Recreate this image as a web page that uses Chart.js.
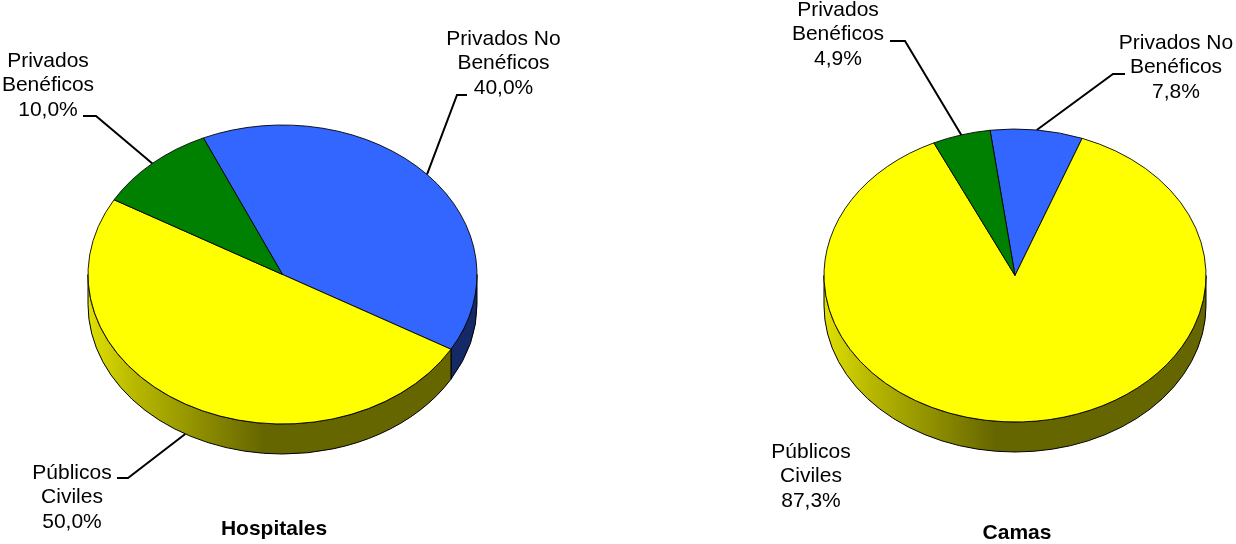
<!DOCTYPE html>
<html>
<head>
<meta charset="utf-8">
<script src="https://cdn.jsdelivr.net/npm/chart.js@4"></script>
<style>
html,body{margin:0;padding:0;background:#fff;overflow:hidden;width:1236px;height:544px}
canvas{position:absolute;top:0}
</style>
</head>
<body>
<canvas id="left" width="618" height="544" style="left:0"></canvas>
<canvas id="right" width="618" height="544" style="left:618px"></canvas>
<script>
const categories = ['Privados No Benéficos', 'Públicos Civiles', 'Privados Benéficos'];
const categoryLines = [['Privados No', 'Benéficos'], ['Públicos', 'Civiles'], ['Privados', 'Benéficos']];
const hospitalesValues = [40.0, 50.0, 10.0];
const camasValues = [7.8, 87.3, 4.9];
const sliceColors = ['#3366ff', '#ffff00', '#008000'];

const FONT = '"Liberation Sans", Arial, sans-serif';

function wallGradient(ctx, hex, left, right) {
  const n = parseInt(hex.slice(1), 16);
  const c = f => `rgb(${Math.round((n >> 16 & 255) * f)},${Math.round((n >> 8 & 255) * f)},${Math.round((n & 255) * f)})`;
  const g = ctx.createLinearGradient(left, 0, right, 0);
  g.addColorStop(0, c(0.88));
  g.addColorStop(0.12, c(0.72));
  g.addColorStop(0.45, c(0.40));
  g.addColorStop(1, c(0.40));
  return g;
}

const pie3d = {
  id: 'pie3d',
  beforeDatasetsDraw(chart, args, o) {
    const ctx = chart.ctx;
    const arcs = chart.getDatasetMeta(0).data;
    const cx = arcs[0].x, cy = arcs[0].y, rx = arcs[0].outerRadius, ry = o.ry, d = o.depth;
    arcs.forEach((arc, i) => {
      [0, 2 * Math.PI, -2 * Math.PI].forEach(shift => {
        const a = Math.max(arc.startAngle + shift, 0), b = Math.min(arc.endAngle + shift, Math.PI);
        if (b <= a) return;
        ctx.beginPath();
        ctx.ellipse(cx, cy, rx, ry, 0, a, b);
        ctx.ellipse(cx, cy + d, rx, ry, 0, b, a, true);
        ctx.closePath();
        ctx.fillStyle = wallGradient(ctx, sliceColors[i], cx - rx, cx + rx);
        ctx.fill();
        ctx.strokeStyle = '#000';
        ctx.lineWidth = 1;
        ctx.stroke();
      });
    });
    ctx.save();
    ctx.translate(cx, cy);
    ctx.scale(1, ry / rx);
    ctx.translate(-cx, -cy);
  },
  afterDatasetsDraw(chart) {
    chart.ctx.restore();
  },
  afterDraw(chart, args, o) {
    const ctx = chart.ctx;
    const arcs = chart.getDatasetMeta(0).data;
    const values = chart.data.datasets[0].data;
    const cx = arcs[0].x, cy = arcs[0].y, rx = arcs[0].outerRadius, ry = o.ry;
    ctx.save();
    ctx.strokeStyle = '#000';
    ctx.lineWidth = 2;
    o.leaders.forEach((l, i) => {
      if (!l) return;
      const m = (arcs[i].startAngle + arcs[i].endAngle) / 2;
      const sy = cy + ry * Math.sin(m) + (Math.sin(m) > 0 ? o.depth : 0);
      ctx.beginPath();
      ctx.moveTo(cx + rx * Math.cos(m), sy);
      l.forEach(p => ctx.lineTo(p[0], p[1]));
      ctx.stroke();
    });
    ctx.fillStyle = '#000';
    ctx.textAlign = 'center';
    ctx.textBaseline = 'middle';
    ctx.font = '21px ' + FONT;
    o.labels.forEach((p, i) => {
      const lines = categoryLines[i].concat(values[i].toFixed(1).replace('.', ',') + '%');
      lines.forEach((t, k) => ctx.fillText(t, p[0], p[1] + k * 24.6));
    });
    ctx.font = 'bold 21px ' + FONT;
    ctx.fillText(o.title, o.titlePos[0], o.titlePos[1]);
    ctx.restore();
  }
};

function makePie(id, values, rotation, radius, padding, extra) {
  new Chart(document.getElementById(id), {
    type: 'pie',
    data: {
      labels: categories,
      datasets: [{
        data: values,
        backgroundColor: sliceColors,
        borderColor: '#000',
        borderWidth: 1,
        clip: false
      }]
    },
    options: {
      responsive: false,
      maintainAspectRatio: false,
      animation: false,
      rotation: rotation,
      radius: radius,
      layout: { padding: padding },
      events: [],
      plugins: {
        legend: { display: false },
        title: { display: false },
        tooltip: { enabled: false },
        pie3d: extra
      }
    },
    plugins: [pie3d]
  });
}

makePie('left', hospitalesValues, -24, 194.5, { right: 53, top: 5 }, {
  ry: 149.5, depth: 30, title: 'Hospitales', titlePos: [274, 529],
  labels: [[503.5, 39], [72, 473], [48, 61]],
  leaders: [[[457, 95], [467, 95]], [[128, 478], [117, 478]], [[96, 116], [83, 116]]]
});

makePie('right', camasValues, -7.5, 191, { left: 176, top: 7 }, {
  ry: 146.5, depth: 30, title: 'Camas', titlePos: [399, 533],
  labels: [[558, 43], [193, 452], [220, 10]],
  leaders: [[[495, 74], [507, 74]], null, [[287, 41], [272, 41]]]
});
</script>
</body>
</html>
